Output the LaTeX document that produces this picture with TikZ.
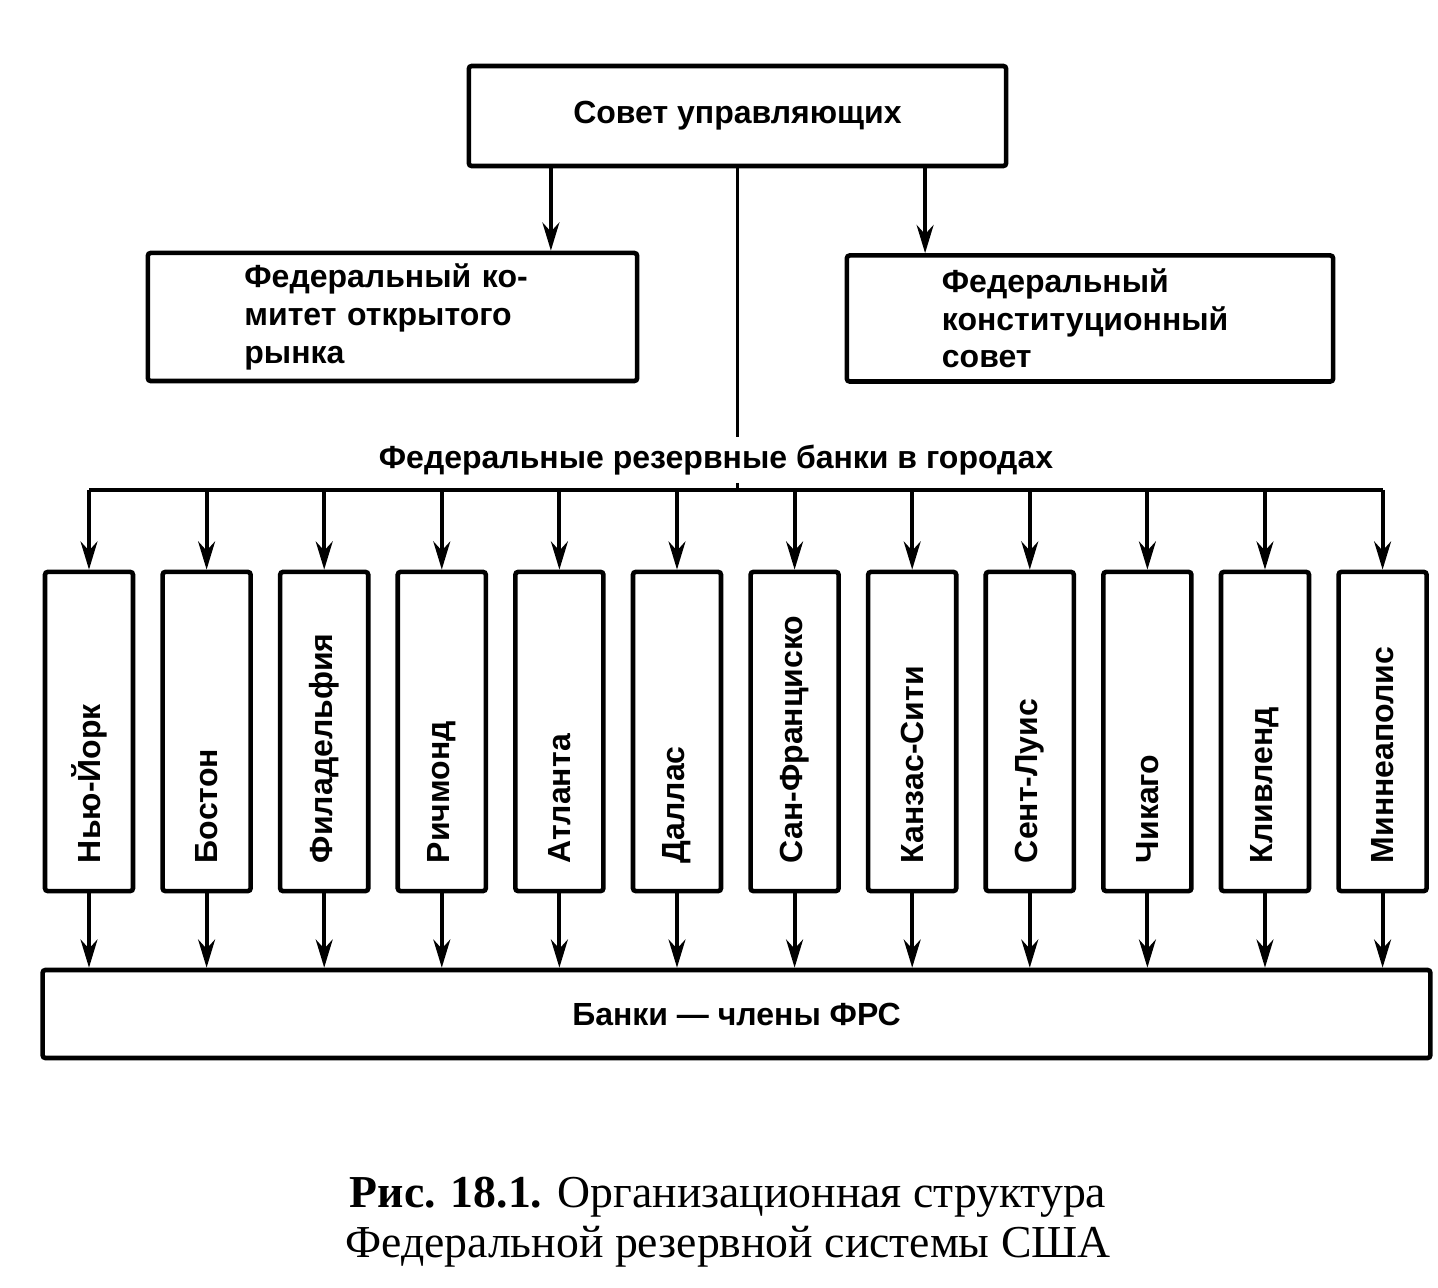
\documentclass[tikz,border=0pt]{standalone}
\usepackage{fontspec}
\setmainfont{Liberation Serif}
\newfontfamily\boxfont{Liberation Sans Bold}
\usetikzlibrary{arrows.meta}

\begin{document}
\begin{tikzpicture}[x=0.01cm, y=-0.01cm]
\tikzset{ >={Stealth[length=8pt, width=4.8pt]}, inner sep=0pt,
  txt/.style={font=\boxfont\fontsize{9.1}{10.7}\selectfont},
  frame/.style={txt, draw, line width=1.3pt, rounded corners=0.8pt},
  link/.style={line width=1.1pt},
  city/.style={frame, rotate=90, minimum width=3.13cm, minimum height=0.88cm,
    text width=2.63cm, inner xsep=0.28cm, align=left},
}

\useasboundingbox (0,0) rectangle (1438,1288);

%\draw [lightgray, dashed](0,0) grid [step=1cm] (1438,1288);

\node [frame, minimum width=5.37cm, minimum height=1.00cm] (board) at (737.5,116) {Совет управляющих};

\node [frame, minimum width=4.89cm, minimum height=1.28cm, text width=2.96cm,
       inner xsep=0.965cm, align=left] (fomc) at (392.5,317)
      {Федеральный ко-\\митет открытого\\рынка};
\node [frame, minimum width=4.86cm, minimum height=1.26cm, text width=2.96cm,
       inner xsep=0.95cm, align=left] (council) at (1090,318.5)
      {Федеральный\\конституционный\\совет};

\node [txt, inner sep=2pt] (frb) at (716,460) {Федеральные резервные банки в городах};

\node [frame, minimum width=13.87cm, minimum height=0.88cm] (members) at (736.5,1014) {Банки — члены ФРС};

\node [align=center, font=\fontsize{13}{14.3}\selectfont] (caption) at (728,1222)
      {\textbf{Рис. 18.1.} Организационная структура\\Федеральной резервной системы США};

\draw [->, link] ([xshift=-1.865cm]board.south) -- ([xshift=-1.865cm]board.south |- fomc.north);
\draw [->, link] ([xshift=1.875cm]board.south) -- ([xshift=1.875cm]board.south |- council.north);

\coordinate (bus) at (737.5,490);
\draw [link] (board.south) -- (board.south |- frb.north);
\draw [link] (bus |- frb.south) -- (bus);

% banks in the cities
\foreach \town [count=\i] in {Нью-Йорк, Бостон, Филадельфия, Ричмонд, Атланта, Даллас,
    Сан-Франциско, Канзас-Сити, Сент-Луис, Чикаго, Кливленд, Миннеаполис}
{
  \node [city] (c\i) at ({89+117.6*(\i-1)},731.5) {\town};
  \draw [->, link] (c\i |- bus) -- (c\i);
  \draw [->, link] (c\i) -- (c\i |- members.north);
}

\draw [link] (c1 |- bus) -- (c12 |- bus);

\end{tikzpicture}
\end{document}
